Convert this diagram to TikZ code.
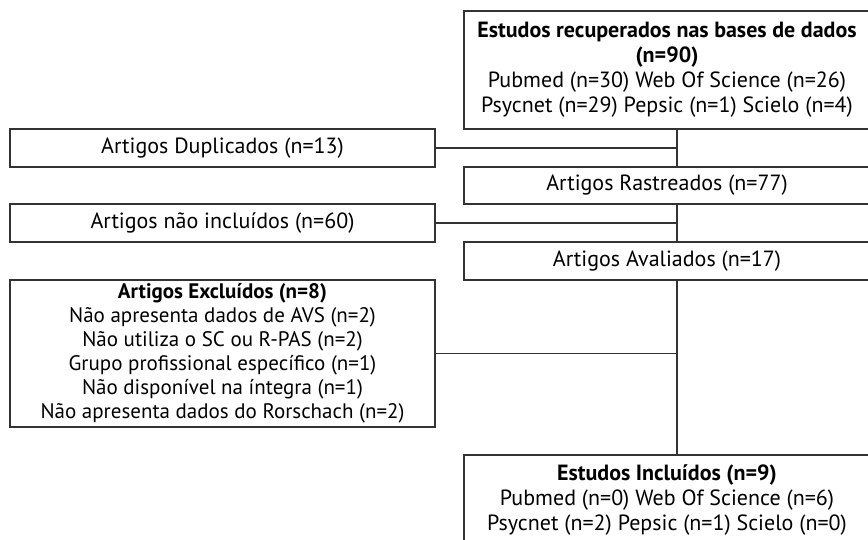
\documentclass[tikz,border=0pt]{standalone}
\usepackage{fontspec}
\setmainfont{PT Sans}
\usetikzlibrary{positioning}

\tikzset{
  caixa/.style={draw=black!80, line width=1.1pt, inner sep=0pt, outer sep=0pt,
    align=center, anchor=north west, font=\fontsize{22}{25}\selectfont},
  esq/.style={caixa, minimum width=425pt},
  dir/.style={caixa, minimum width=406pt},
  liga/.style={draw=black!80, line width=1.1pt},
}

\begin{document}
\begin{tikzpicture}[x=1pt,y=-1pt]
    \useasboundingbox (0,0) rectangle (868,540);
    \clip (0,0) rectangle (868,540);

    % coluna da direita
    \node[dir, minimum height=118pt] (busca) at (464,11)
        {\textbf{Estudos recuperados nas bases de dados}\\
         \textbf{(n=90)}\\
         Pubmed (n=30) Web Of Science (n=26)\\
         Psycnet (n=29) Pepsic (n=1) Scielo (n=4)};
    \node[dir, minimum height=37pt] (rast) at (464,167) {Artigos Rastreados (n=77)};
    \node[dir, minimum height=38pt] (aval) at (464,242) {Artigos Avaliados (n=17)};
    \node[dir, minimum height=90pt] (incl) at (464,455)
        {\textbf{Estudos Incluídos (n=9)}\\
         Pubmed (n=0) Web Of Science (n=6)\\
         Psycnet (n=2) Pepsic (n=1) Scielo (n=0)};

    % coluna da esquerda
    \node[esq, minimum height=38pt] (dup) at (10,129) {Artigos Duplicados (n=13)};
    \node[esq, minimum height=38pt] (naoinc) at (10,204) {Artigos não incluídos (n=60)};
    \node[esq, minimum height=147pt, font=\fontsize{21}{24}\selectfont] (excl) at (10,280)
        {\textbf{Artigos Excluídos (n=8)}\\
         Não apresenta dados de AVS (n=2)\\
         Não utiliza o SC ou R-PAS (n=2)\\
         Grupo profissional específico (n=1)\\
         Não disponível na íntegra (n=1)\\
         Não apresenta dados do Rorschach (n=2)};

    % ligacoes
    \coordinate (eixo) at (677,0);
    \draw[liga] (busca.south -| eixo) -- (rast.north -| eixo);
    \draw[liga] (rast.south -| eixo) -- (aval.north -| eixo);
    \draw[liga] (aval.south -| eixo) -- (incl.north -| eixo);
    \draw[liga] (dup.east) -- (dup.east -| eixo);
    \draw[liga] (naoinc.east) -- (naoinc.east -| eixo);
    \draw[liga] (excl.east) -- (excl.east -| eixo);

\end{tikzpicture}
\end{document}
